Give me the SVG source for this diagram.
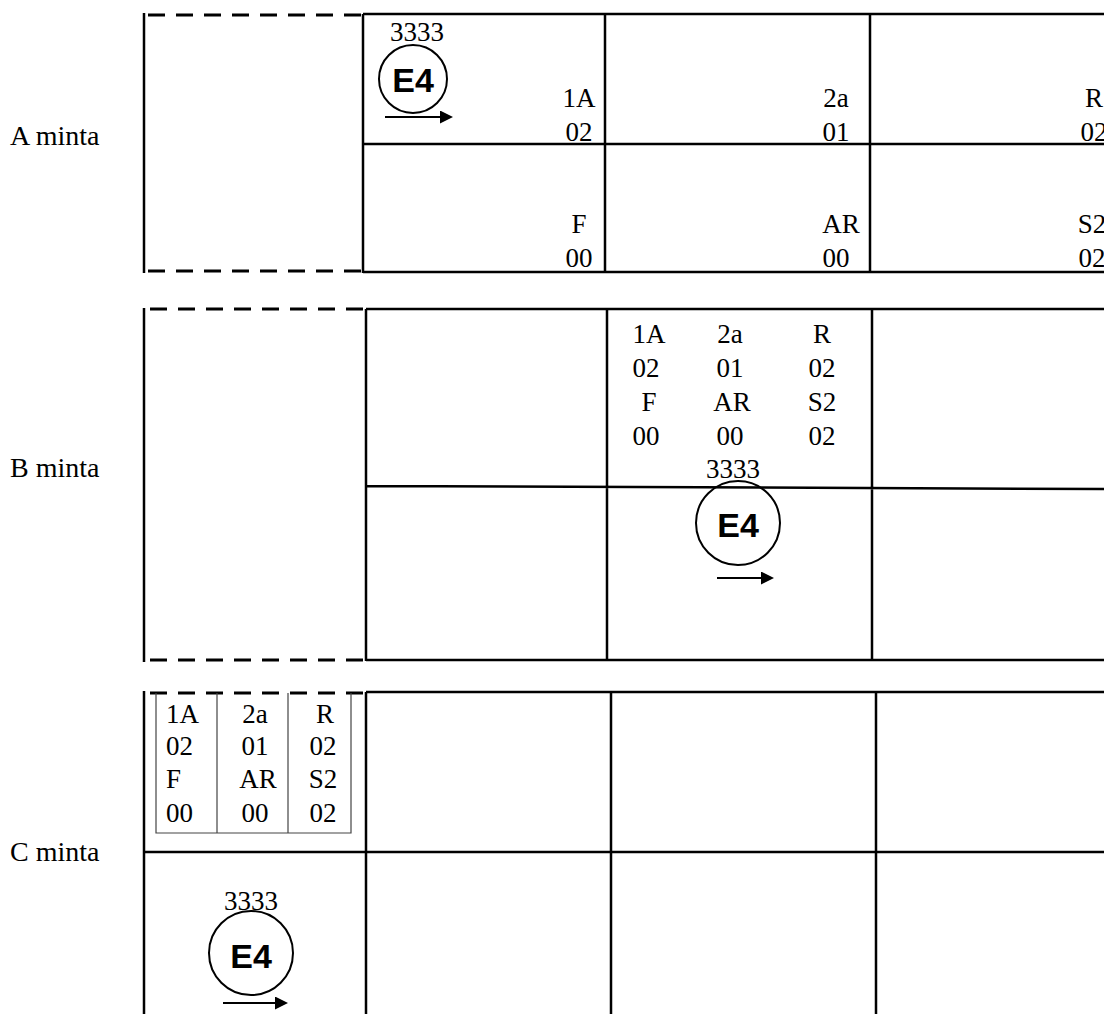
<svg xmlns="http://www.w3.org/2000/svg" width="1104" height="1014" viewBox="0 0 1104 1014">
<style>
.t{font-family:"Liberation Serif","Times New Roman",serif;font-size:27px;fill:#000}
.l{font-family:"Liberation Serif","Times New Roman",serif;font-size:28px;fill:#000}
.c{text-anchor:middle}
.e{font-family:"Liberation Sans",Arial,sans-serif;font-size:34px;font-weight:bold;text-anchor:middle;fill:#000}
.g{stroke:#000;stroke-width:2.5;fill:none}
.d{stroke:#000;stroke-width:3;stroke-dasharray:17 11;fill:none}
.tb{stroke:#444;stroke-width:1.2;fill:none}
.ring{stroke:#000;stroke-width:2;fill:none}
.ar{stroke:#000;stroke-width:2;fill:none;marker-end:url(#ah)}
</style>
<defs>
<marker id="ah" markerWidth="13" markerHeight="13" refX="11" refY="6.5" orient="auto" markerUnits="userSpaceOnUse">
<path d="M0,0 L13,6.5 L0,13 Z" fill="#000"/>
</marker>
</defs>
<rect width="1104" height="1014" fill="#fff"/>

<g id="labels">
<text class="l" x="10" y="145">A minta</text>
<text class="l" x="10" y="477">B minta</text>
<text class="l" x="10" y="861">C minta</text>
</g>

<g id="panelA">
<line class="g" x1="144" y1="13" x2="144" y2="273"/>
<line class="d" x1="148" y1="15" x2="362" y2="15"/>
<line class="d" x1="148" y1="271" x2="362" y2="271"/>
<path class="g" d="M363,14 H1104 M363,144 H1104 M363,272 H1104 M363,14 V273 M605,14 V273 M870,14 V273"/>
<g class="t c">
<text x="579" y="107">1A</text><text x="579" y="141">02</text>
<text x="836" y="107">2a</text><text x="836" y="141">01</text>
<text x="1094" y="107">R</text><text x="1094" y="141">02</text>
<text x="579" y="233">F</text><text x="579" y="267">00</text>
<text x="841" y="233">AR</text><text x="836" y="267">00</text>
<text x="1092" y="233">S2</text><text x="1092" y="267">02</text>
</g>
</g>

<g id="markA">
<text class="t c" x="417" y="41">3333</text>
<circle class="ring" cx="413" cy="79" r="34"/>
<text class="e" x="413" y="92">E4</text>
<line class="ar" x1="385" y1="117" x2="451" y2="117"/>
</g>

<g id="panelB">
<line class="g" x1="144" y1="308" x2="144" y2="662"/>
<line class="d" x1="150" y1="309" x2="366" y2="309"/>
<line class="d" x1="150" y1="660" x2="366" y2="660"/>
<path class="g" d="M366,309 H1104 M366,486 L1104,489 M366,660 H1104 M366,309 V661 M607,309 V661 M872,309 V661"/>
<g class="t c">
<text x="649" y="343">1A</text><text x="730" y="343">2a</text><text x="822" y="343">R</text>
<text x="646" y="377">02</text><text x="730" y="377">01</text><text x="822" y="377">02</text>
<text x="649" y="411">F</text><text x="732" y="411">AR</text><text x="822" y="411">S2</text>
<text x="646" y="445">00</text><text x="730" y="445">00</text><text x="822" y="445">02</text>
</g>
</g>

<g id="markB">
<text class="t c" x="733" y="478">3333</text>
<circle class="ring" cx="738" cy="523" r="42"/>
<text class="e" x="738" y="537">E4</text>
<line class="ar" x1="717" y1="578" x2="772" y2="578"/>
</g>

<g id="panelC">
<line class="g" x1="144" y1="691" x2="144" y2="1014"/>
<line class="d" x1="150" y1="693" x2="363" y2="693"/>
<path class="g" d="M366,692 H1104 M144,852 H1104 M366,692 V1014 M611,692 V1014 M876,692 V1014"/>
<path class="tb" d="M156,693 V833 H351 V693 M217,693 V833 M288,693 V833"/>
<g class="t">
<text x="166" y="723">1A</text><text x="166" y="755">02</text><text x="166" y="788">F</text><text x="166" y="822">00</text>
</g>
<g class="t c">
<text x="255" y="723">2a</text><text x="255" y="755">01</text><text x="258" y="788">AR</text><text x="255" y="822">00</text>
<text x="325" y="723">R</text><text x="323" y="755">02</text><text x="323" y="788">S2</text><text x="323" y="822">02</text>
</g>
</g>

<g id="markC">
<text class="t c" x="251" y="910">3333</text>
<circle class="ring" cx="251" cy="953" r="42"/>
<text class="e" x="251" y="968">E4</text>
<line class="ar" x1="223" y1="1003" x2="286" y2="1003"/>
</g>
</svg>
